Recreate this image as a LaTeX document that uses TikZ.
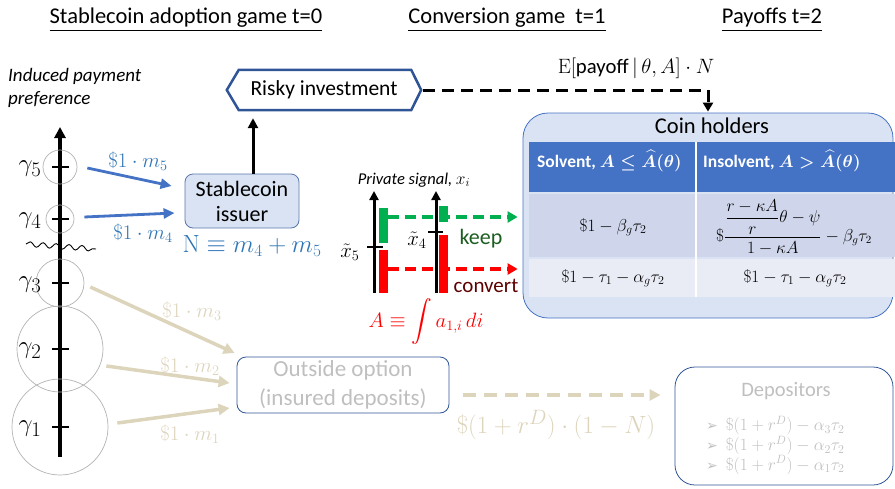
\documentclass[tikz,border=0pt]{standalone}
\usepackage{amsmath}
\usepackage[no-math]{fontspec}
\setmainfont{Carlito}
\newfontfamily\symfont{DejaVu Sans}
\usetikzlibrary{arrows.meta,positioning,decorations.pathmorphing}

\definecolor{flowblue}{HTML}{4472C4}
\definecolor{textblue}{HTML}{2E75B6}
\definecolor{boxfill}{HTML}{DAE3F3}
\definecolor{boxline}{HTML}{2F5597}
\definecolor{sand}{HTML}{DDD4BC}
\definecolor{fadegray}{HTML}{BFBFBF}
\definecolor{rowdark}{HTML}{CFD5EA}
\definecolor{rowlight}{HTML}{E9EBF5}
\definecolor{keepgreen}{HTML}{00B050}
\definecolor{keeptext}{HTML}{1B5E20}
\definecolor{converttext}{HTML}{5C0000}

\newcommand{\fs}[1]{\fontsize{#1}{#1}\selectfont}
\newcommand{\fsl}[2]{\fontsize{#1}{#2}\selectfont}

\tikzset{
  heading/.style={font=\fs{22.5}},
  ring/.style={draw=gray!60, line width=0.7pt, circle, inner sep=0pt},
  tickmark/.style={line width=2.5pt},
  gamlabel/.style={font=\fs{24.88}},
  blueflow/.style={draw=flowblue, line width=2.8pt, -{Triangle[length=11pt,width=10pt]}},
  sandflow/.style={draw=sand, line width=3.5pt, -{Triangle[length=11pt,width=11pt]}},
  bluelabel/.style={text=textblue, font=\fs{20.74}},
  sandlabel/.style={text=sand, font=\fs{20.74}},
  issuerbox/.style={draw=boxline!80, fill=boxfill, rounded corners=8pt, line width=0.8pt,
    minimum width=114pt, minimum height=54pt, align=center, font=\fsl{22}{25}},
  riskyline/.style={draw=boxline, line width=2.5pt, line join=miter},
  coinbox/.style={draw=flowblue, fill=boxfill, rounded corners=25pt, line width=0.8pt},
  optbox/.style={draw=boxline, rounded corners=9pt, line width=0.8pt, text=fadegray,
    minimum width=212pt, minimum height=56pt, align=center, font=\fsl{23}{29}},
  sigaxis/.style={line width=3pt, -{Triangle[length=9pt,width=9pt]}},
  keepflow/.style={draw=keepgreen, line width=3.5pt, dash pattern=on 11pt off 6pt,
    -{Triangle[length=10pt,width=11pt]}},
  convflow/.style={draw=red, line width=3.5pt, dash pattern=on 11pt off 6pt,
    -{Triangle[length=10pt,width=11pt]}},
  headtext/.style={text=white, font=\fs{17.5}\bfseries, anchor=west, inner sep=1pt},
  cell/.style={font=\fs{17.28}},
}

\begin{document}
\begin{tikzpicture}[x=1pt,y=-1pt]
\useasboundingbox (0,0) rectangle (895,488);

% section titles
\node[heading] (h0) at (186,20) {\underline{Stablecoin adoption game t=0}};
\node[heading] (h1) at (507,20) {\underline{Conversion game~ t=1}};
\node[heading] (h2) at (772,20) {\underline{Payoffs t=2}};

% coin holders
\node[coinbox, minimum width=370pt, minimum height=205pt] (coin) at (708,215.5) {};
\node[font=\fs{22.5}] (coinhead) at (712,126) {Coin holders};
\fill[flowblue] (529,142) rectangle (895,192);
\fill[rowdark] (529,194) rectangle (895,257);
\fill[rowlight] (529,259) rectangle (895,297);
\draw[white, line width=1.5pt] (696,142) -- (696,297);
\node[headtext] (solv) at (536,161) {Solvent, $\boldsymbol{A\le\widehat{A}(\theta)}$};
\node[headtext] (insolv) at (702,161) {Insolvent, $\boldsymbol{A>\widehat{A}(\theta)}$};
\node[cell] (c21) at (613,227) {$\$1-\beta_g\tau_2$};
\node[cell, font=\fs{16}] (c22) at (794,227) {$\$\dfrac{\dfrac{r-\kappa A}{r}\theta-\psi}{1-\kappa A}-\beta_g\tau_2$};
\node[cell] (c31) at (613,278) {$\$1-\tau_1-\alpha_g\tau_2$};
\node[cell] (c32) at (795,278) {$\$1-\tau_1-\alpha_g\tau_2$};

% payment preference axis
\node[font=\fsl{19}{23}\itshape, align=left, anchor=north west, inner sep=0pt] (pref) at (8,68) {Induced payment\\preference};
\draw[line width=3.5pt, -{Triangle[length=11pt,width=11pt]}] (60,457) -- (60,127);
\foreach \g/\y/\r in {5/167/17, 4/219/14, 3/283/24, 2/349/43, 1/427/48} {
  \node[ring, minimum size=2*\r pt] (c\g) at (60,\y) {};
  \draw[tickmark] (52,\y) -- (69,\y);
  \node[gamlabel] (g\g) at (30,\y+2) {$\gamma_\g$};
}
\draw[decorate, decoration={snake, amplitude=2.5pt, segment length=13pt}, line width=0.9pt] (26,244) -- (96,249);

% stablecoin issuer
\node[issuerbox] (issuer) at (242,201) {Stablecoin\\issuer};
\node[text=textblue, font=\fs{25.5}] (nsum) at (252,246) {$\mathrm{N}\equiv m_4+m_5$};
\draw[blueflow] ([shift={(10,1)}]c5.east) -- ([shift={(-13,-15)}]issuer.west);
\draw[blueflow] ([shift={(10,-2)}]c4.east) -- ([shift={(-10,12)}]issuer.west);
\node[bluelabel] (m5) at (138,161) {$\$1\cdot m_5$};
\node[bluelabel] (m4) at (143,233) {$\$1\cdot m_4$};

% risky investment
\node[minimum width=194pt, minimum height=40pt, font=\fs{21.5}] (risky) at (324,90) {Risky investment};
\draw[riskyline] ([xshift=12pt]risky.north west) -- ([xshift=-10pt]risky.north east) -- (risky.east)
  -- ([xshift=-10pt]risky.south east) -- ([xshift=12pt]risky.south west) -- (risky.west) -- cycle;
\draw[line width=3pt, -{Triangle[length=10pt,width=10pt]}, shorten >=8pt]
  ([xshift=11pt]issuer.north) -- ([xshift=11pt]issuer.north |- risky.south);
\draw[line width=3pt, dash pattern=on 12pt off 7pt, -{Triangle[length=9pt,width=10pt]}]
  ([xshift=2pt]risky.east) -| ([yshift=1pt]coin.north);
\node[font=\fs{20.74}] (payoff) at (636,68) {$\mathrm{E}[$payoff$\,|\,\theta,A]\cdot N$};

% outside option
\node[optbox] (outside) at (343,385) {Outside option\\(insured deposits)};
\draw[sandflow] ([shift={(6,4)}]c3.east) -- ([shift={(-2,-32)}]outside.west);
\draw[sandflow] ([shift={(3,17)}]c2.east) -- ([shift={(-7,-2)}]outside.west);
\draw[sandflow] ([shift={(9,-4)}]c1.east) -- ([shift={(-7,23)}]outside.west);
\node[sandlabel] (m3) at (192,311) {$\$1\cdot m_3$};
\node[sandlabel] (m2) at (190,366) {$\$1\cdot m_2$};
\node[sandlabel] (m1) at (190,434) {$\$1\cdot m_1$};

% conversion game
\node[font=\fs{16.5}\itshape] (signal) at (414,180) {Private signal, $x_i$};
\draw[sigaxis] (374,293) -- (374,191);
\draw[sigaxis] (436,293) -- (436,191);
\fill[keepgreen] (379,208) rectangle (388,243);
\fill[red] (379,250) rectangle (388,293);
\fill[keepgreen] (439,206) rectangle (448,222);
\fill[red] (439,235) rectangle (448,293);
\draw[line width=1.5pt] (367,247) -- (383,247);
\draw[line width=1.5pt] (428,232) -- (443,232);
\node[font=\fs{20.74}] (x5) at (350,252) {$\tilde{x}_5$};
\node[font=\fs{20.74}] (x4) at (417,240) {$\tilde{x}_4$};
\coordinate (keepstart) at (388,217);
\coordinate (convstart) at (388,269);
\draw[keepflow] (keepstart) -- ([xshift=-5pt]coin.west |- keepstart);
\draw[convflow] (convstart) -- ([xshift=-5pt]coin.west |- convstart);
\node[text=keeptext, font=\fs{22}] (keep) at (481,239) {keep};
\node[text=converttext, font=\fs{21}] (convert) at (486,286) {convert};
\node[text=red, font=\fs{20.74}] (aint) at (426,322) {$A\equiv\displaystyle\int a_{1,i}\,di$};

% depositors
\node[draw=boxline, rounded corners=20pt, line width=0.8pt, minimum width=218pt, minimum height=118pt] (depos) at (784,426) {};
\node[text=fadegray, font=\fs{20.5}] (deptitle) at (786,391) {Depositors};
\node[text=fadegray, font=\fsl{17.28}{17.5}, align=left, anchor=north west, inner sep=0pt] (deplist) at (706,416)
  {{\symfont\fs{14}➢}\ \ $\$(1+r^D)-\alpha_3\tau_2$\\
   {\symfont\fs{14}➢}\ \ $\$(1+r^D)-\alpha_2\tau_2$\\
   {\symfont\fs{14}➢}\ \ $\$(1+r^D)-\alpha_1\tau_2$};
\coordinate (depstart) at ([shift={(14,10)}]outside.east);
\draw[sandflow, dash pattern=on 13pt off 8pt]
  (depstart) -- ([xshift=-14pt]depos.west |- depstart);
\node[text=sand, font=\fs{24.88}] (deplabel) at (556,425) {$\$(1+r^D)\cdot(1-N)$};
\end{tikzpicture}
\end{document}
